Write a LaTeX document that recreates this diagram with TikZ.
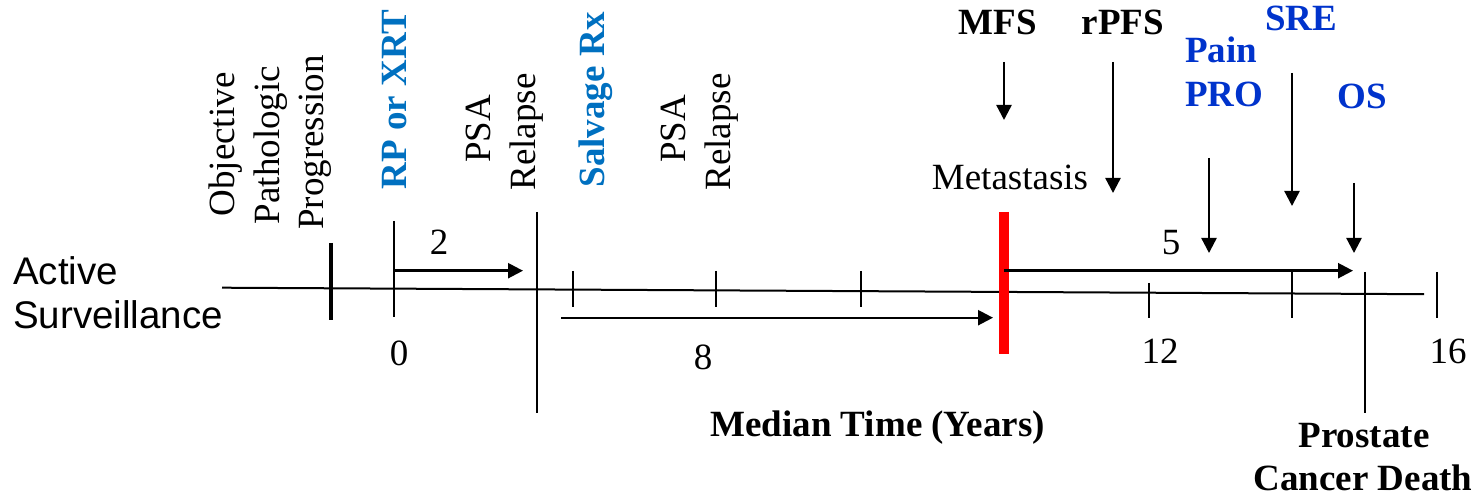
\documentclass[tikz,border=0pt]{standalone}
\usepackage{fontspec}
\setmainfont{Liberation Serif}
\newfontfamily\arialfont{Liberation Sans}
\usetikzlibrary{arrows.meta}
\definecolor{rxblue}{HTML}{0070C0}
\definecolor{epblue}{HTML}{0033CC}
\definecolor{metred}{HTML}{FF0000}
\begin{document}
\begin{tikzpicture}[x=1pt,y=-1pt,
  txt/.style={font=\fontsize{37}{44}\selectfont, inner sep=0pt, anchor=base},
  bold/.style={txt, font=\fontsize{37}{44}\selectfont\bfseries},
  sans/.style={txt, anchor=base west, font=\fontsize{38.5}{44}\selectfont\arialfont},
  up/.style={rotate=90},
  rx/.style={bold, text=rxblue},
  ep/.style={bold, text=epblue, anchor=base west},
  axisline/.style={line width=2pt},
  tick/.style={line width=2pt},
  conn/.style={line width=2.4pt, -{Triangle[length=15pt,width=15pt]}},
]
\useasboundingbox (0,0) rectangle (1479,502);

% row label
\node[sans] (as1) at (13,285) {Active};
\node[sans] (as2) at (13,328) {Surveillance};

% time axis
\draw[axisline] (222,287.7) -- (1424,294.2);

% event markers on the axis
\draw[line width=3.5pt] (331,243) -- (331,320);
\draw[tick] (394,221) -- (394,317);
\draw[tick] (537,212) -- (537,413);
\foreach \tx in {573,716,861} \draw[tick] (\tx,271) -- (\tx,307);
\draw[tick] (1149,283) -- (1149,318);
\draw[tick] (1292,272) -- (1292,318);
\draw[tick] (1365,272) -- (1365,413);
\draw[tick] (1437,272) -- (1437,318);
\draw[line width=10pt, metred] (1004,212) -- (1004,354);

% rotated event labels
\node[txt, up] (opp1) at (234.5,144.5) {Objective};
\node[txt, up] (opp2) at (279,145) {Pathologic};
\node[txt, up] (opp3) at (323.5,142.5) {Progression};
\node[rx, up] (rp) at (406,99.5) {RP or XRT};
\node[txt, up] (psa1a) at (490,129) {PSA};
\node[txt, up] (psa1b) at (535,132) {Relapse};
\node[rx, up] (salv) at (604,99.5) {Salvage Rx};
\node[txt, up] (psa2a) at (685,129) {PSA};
\node[txt, up] (psa2b) at (730,132) {Relapse};

% interval lengths and axis numbers
\node[txt] (n2) at (439,255) {2};
\node[txt] (n0) at (399,365) {0};
\node[txt] (n8) at (703,369) {8};
\node[txt] (n5) at (1171,255) {5};
\node[txt] (n12) at (1160,363) {12};
\node[txt] (n16) at (1448,363) {16};

% endpoint labels
\node[bold] (mfs) at (998,35) {MFS};
\node[bold] (rpfs) at (1123,35) {rPFS};
\node[ep] (pain1) at (1185,62.5) {Pain};
\node[ep] (pain2) at (1185,107) {PRO};
\node[ep] (sre) at (1265,30.5) {SRE};
\node[ep] (os) at (1337,109) {OS};
\node[txt] (meta) at (1010,190) {Metastasis};
\node[bold] (median) at (877.5,436) {Median Time (Years)};
\node[bold] (pcd1) at (1364,447) {Prostate};
\node[bold] (pcd2) at (1363,490) {Cancer Death};

% arrow end points
\coordinate (a2s) at (394,270.7);   \coordinate (a2e) at (523,270.7);
\coordinate (a8s) at (561,317.7);   \coordinate (a8e) at (993,317.7);
\coordinate (a5s) at (1004,270.7);  \coordinate (a5e) at (1353,270.7);
\coordinate (mfss) at (1004,62);    \coordinate (mfse) at (1004,120);
\coordinate (rpfss) at (1113,62);   \coordinate (rpfse) at (1113,193);
\coordinate (pains) at (1209,158);  \coordinate (paine) at (1209,253);
\coordinate (sres) at (1292,73);    \coordinate (sree) at (1292,206);
\coordinate (oss) at (1354,183);    \coordinate (ose) at (1354,253);

% interval and endpoint arrows
\draw[conn] (a2s) -- (a2e);
\draw[conn] (a8s) -- (a8e);
\draw[conn] (a5s) -- (a5e);
\draw[conn] (mfss) -- (mfse);
\draw[conn] (rpfss) -- (rpfse);
\draw[conn] (pains) -- (paine);
\draw[conn] (sres) -- (sree);
\draw[conn] (oss) -- (ose);
\end{tikzpicture}
\end{document}
